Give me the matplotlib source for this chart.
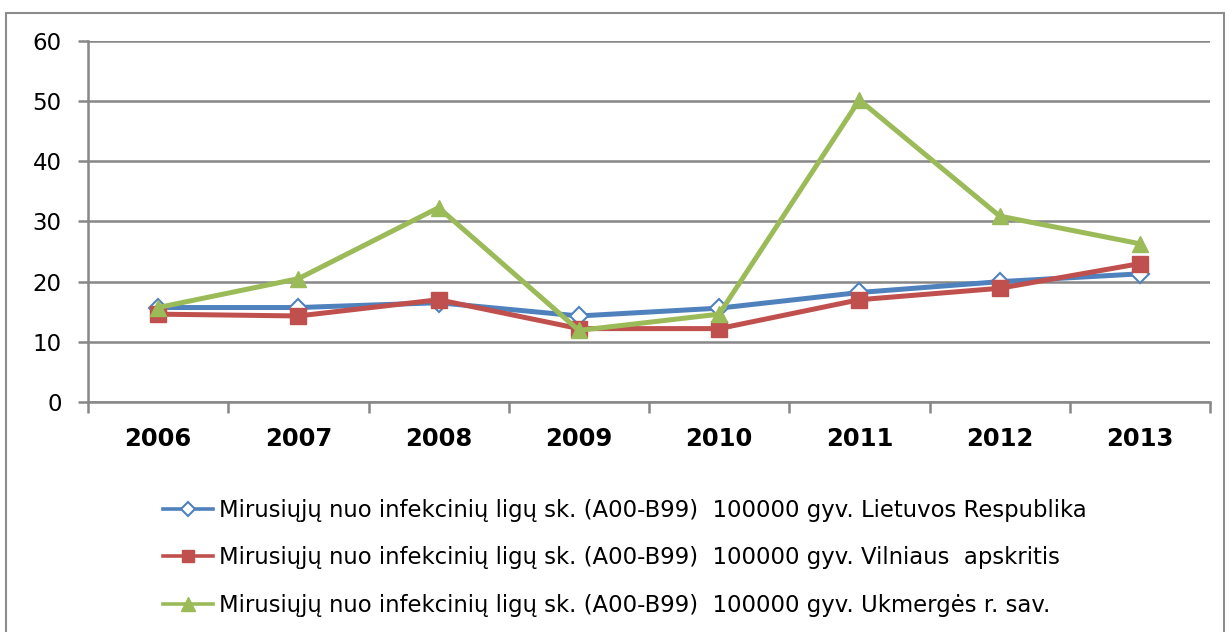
import matplotlib
matplotlib.use("Agg")
import matplotlib.pyplot as plt
from matplotlib.patches import Rectangle

years = ["2006", "2007", "2008", "2009", "2010", "2011", "2012", "2013"]
lietuva = [15.7, 15.7, 16.5, 14.3, 15.6, 18.2, 20.0, 21.3]
vilnius = [14.6, 14.3, 17.0, 12.2, 12.2, 17.0, 18.9, 23.0]
ukmerge = [15.7, 20.5, 32.3, 11.9, 14.6, 50.2, 30.9, 26.3]
labels = [
    "Mirusiųjų nuo infekcinių ligų sk. (A00-B99)  100000 gyv. Lietuvos Respublika",
    "Mirusiųjų nuo infekcinių ligų sk. (A00-B99)  100000 gyv. Vilniaus  apskritis",
    "Mirusiųjų nuo infekcinių ligų sk. (A00-B99)  100000 gyv. Ukmergės r. sav.",
]
yticks = [0, 10, 20, 30, 40, 50, 60]

plt.rcParams['font.family'] = ['DejaVu Sans']
W, H = 1229, 632
fig = plt.figure(figsize=(W / 100, H / 100), dpi=100)
fig.patch.set_facecolor("white")

# outer chart border
fig.patches.append(Rectangle((6 / W, -0.01), (1224 - 6) / W, 1 - 13 / H + 0.01,
                             transform=fig.transFigure, fill=False,
                             edgecolor="#8c8c8c", linewidth=1.5))

ax = fig.add_axes([88 / W, (H - 402) / H, (1210 - 88) / W, (402 - 41) / H])
x = list(range(len(years)))
grid_c = "#878787"

ax.plot(x, lietuva, color="#4F81BD", lw=3.6, marker="D", ms=9,
        mfc="white", mec="#4F81BD", mew=1.5, label=labels[0], zorder=3)
ax.plot(x, vilnius, color="#C0504D", lw=3.6, marker="s", ms=11,
        mfc="#C0504D", mec="#C0504D", label=labels[1], zorder=4)
ax.plot(x, ukmerge, color="#9BBB59", lw=3.6, marker="^", ms=12,
        mfc="#9BBB59", mec="#9BBB59", label=labels[2], zorder=5)

ax.set_xlim(-0.5, len(years) - 0.5)
ax.set_ylim(0, 60)
ax.set_yticks(yticks)
ax.set_yticklabels([str(v) for v in yticks], fontsize=16.5)
ax.yaxis.grid(True, color=grid_c, lw=1.8)
ax.set_axisbelow(True)

ax.set_xticks(x)
ax.set_xticklabels(years, fontsize=17.5, fontweight="bold")
ax.tick_params(axis="x", length=0, pad=18)
ax.set_xticks([i - 0.5 for i in range(len(years) + 1)], minor=True)
ax.tick_params(axis="x", which="minor", length=8, width=1.8, color=grid_c, direction="out")
ax.tick_params(axis="y", length=7, width=1.8, color=grid_c, pad=12)

for s in ["top", "right"]:
    ax.spines[s].set_visible(False)
for s in ["left", "bottom"]:
    ax.spines[s].set_color(grid_c)
    ax.spines[s].set_linewidth(1.8)

leg = fig.legend(loc="upper left", bbox_to_anchor=(142 / W, 1 - 478 / H),
                 frameon=False, fontsize=16.4, handlelength=2.2,
                 handletextpad=0.3, labelspacing=1.08)
for ln in leg.get_lines():
    ln.set_linewidth(2.6)
    ln.set_markersize(ln.get_markersize() * 0.8)

fig.savefig("out.png", dpi=100, facecolor="white")
